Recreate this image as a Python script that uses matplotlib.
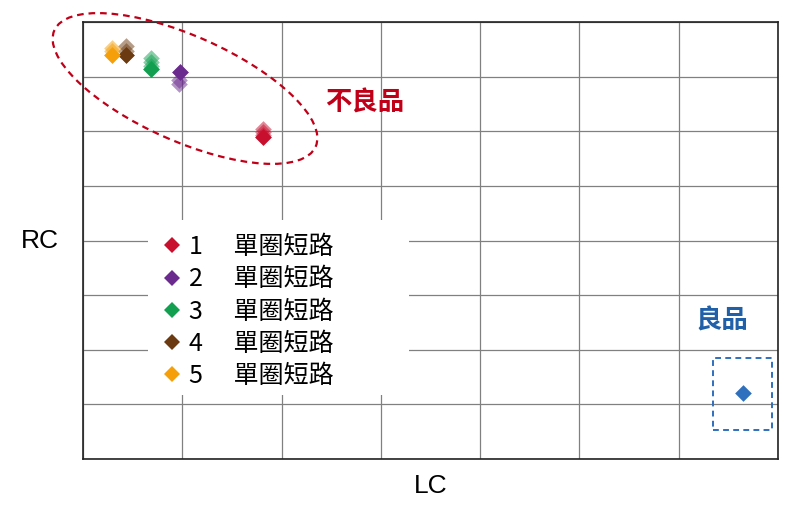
import matplotlib.pyplot as plt
from matplotlib.patches import Ellipse, Rectangle
from matplotlib.lines import Line2D

plt.rcParams['font.family'] = ['Noto Sans CJK TC', 'DejaVu Sans']

# 讀圖估計的數據 (LC, RC)
s1_x = [1.813, 1.813, 1.813, 1.813]
s1_y = [6.041, 5.986, 5.931, 5.895]
s2_x = [0.962, 0.967, 0.982]
s2_y = [6.865, 6.938, 7.085]
s3_x = [0.688, 0.688, 0.688, 0.688]
s3_y = [7.341, 7.268, 7.195, 7.140]
s4_x = [0.433, 0.433, 0.433]
s4_y = [7.561, 7.469, 7.396]
s5_x = [0.289, 0.289, 0.289]
s5_y = [7.524, 7.460, 7.396]
good_x = [6.647]
good_y = [1.208]

labels = ['1\u3000 單圈短路', '2\u3000 單圈短路', '3\u3000 單圈短路',
          '4\u3000 單圈短路', '5\u3000 單圈短路']
colors = ['#c8102e', '#6a2a8e', '#12a050', '#6b3a10', '#f5a00a']
good_color = '#2e6fbe'

fig = plt.figure(figsize=(8, 5.12), dpi=100)
ax = fig.add_axes([83/800, 53/512, 695/800, 437/512])

series = [(s1_x, s1_y), (s2_x, s2_y), (s3_x, s3_y), (s4_x, s4_y), (s5_x, s5_y)]
for (xs, ys), c in zip(series, colors):
    ax.scatter(xs, ys, marker='D', s=72, color=c, alpha=0.5, linewidths=0, zorder=3)
    ax.scatter(xs[-1:], ys[-1:], marker='D', s=72, color=c, linewidths=0, zorder=4)
ax.scatter(good_x, good_y, marker='D', s=72, color=good_color, linewidths=0, zorder=4)

ax.set_xlim(0, 7)
ax.set_ylim(0, 8)
ax.set_xticks(range(8))
ax.set_yticks(range(9))
ax.tick_params(length=0, labelbottom=False, labelleft=False)
ax.grid(True, color='#808080', lw=0.9)
for sp in ax.spines.values():
    sp.set_color('#222222')
    sp.set_linewidth(1.2)

ax.set_xlabel('LC', family=['Liberation Sans', 'DejaVu Sans'], fontsize=19, labelpad=11)
ax.set_ylabel('RC', family=['Liberation Sans', 'DejaVu Sans'], fontsize=19,
              rotation=0, labelpad=31, va='center')

# 圖例白底
ax.add_patch(Rectangle((0.0935, 0.1465), 0.3755, 0.4005, transform=ax.transAxes,
                       facecolor='white', edgecolor='none', zorder=2))

handles = [Line2D([], [], marker='D', ls='none', color=c, markersize=8.5, markeredgewidth=0)
           for c in colors]
leg = ax.legend(handles, labels, loc='upper left', bbox_to_anchor=(0.082, 0.566),
                fontsize=18, frameon=False, handlelength=0.8, handletextpad=0.28,
                labelspacing=0.25, borderpad=0.4)
leg.set_zorder(5)

ell = Ellipse((1.85, (512-88.5)/100), 2.86, 1.05, angle=-24, fill=False,
              edgecolor='#c00018', lw=1.6, ls=(0, (3, 2.2)),
              transform=fig.dpi_scale_trans, zorder=6)
fig.add_artist(ell)

ax.add_patch(Rectangle((6.345, 0.53), 0.595, 1.32, fill=False, edgecolor=good_color,
                       lw=1.4, ls=(0, (3, 2.2)), zorder=4))

fig.text(365/800, 1-103.5/512, '不良品', color='#c00018', fontsize=19,
         fontweight='bold', ha='center', va='center')
fig.text(722/800, 1-321/512, '良品', color='#2060a8', fontsize=19,
         fontweight='bold', ha='center', va='center')

fig.savefig('out.png', dpi=100)
